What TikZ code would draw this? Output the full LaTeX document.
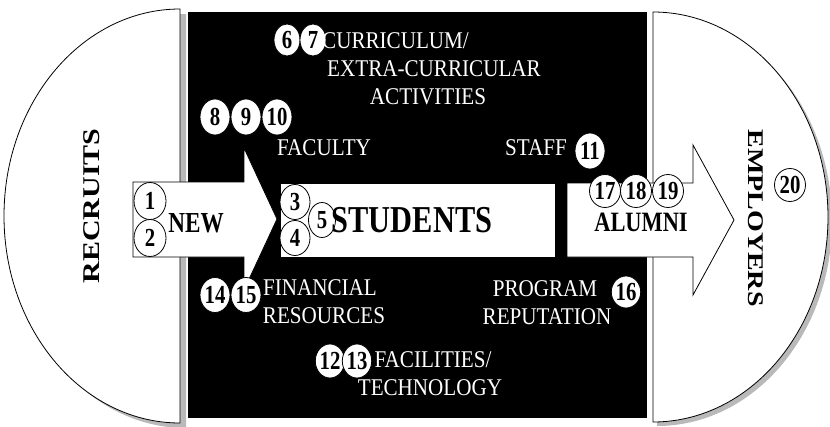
\documentclass[tikz,border=0pt]{standalone}
\usepackage{fontspec}
\setmainfont{Liberation Serif}
\usepackage{graphicx}
\usetikzlibrary{shapes.geometric}
\newcommand\sqz[1]{\scalebox{0.8}[1]{#1}}
\begin{document}
\begin{tikzpicture}[x=1pt,y=-1pt,
  numc/.style={ellipse, draw=black, line width=0.8pt, fill=white, inner sep=0pt,
    minimum width=30pt, minimum height=35pt, font=\bfseries\fontsize{26}{26}\selectfont},
  btxt/.style={font=\bfseries\fontsize{#1}{#1}\selectfont, text=black, xscale=0.8, inner sep=0pt},
  wtxt/.style={font=\fontsize{24}{24}\selectfont, text=white, xscale=0.88, inner sep=0pt},
  shapeline/.style={draw=black, line width=0.8pt, fill=white},
  shadowfill/.style={fill=gray!55}
]
\useasboundingbox (0,0) rectangle (830,426);
% shadows
\fill[shadowfill] (186,14) arc[start angle=270, end angle=90, x radius=176, y radius=207] -- cycle;
\fill[shadowfill] (657,16) arc[start angle=-90, end angle=90, x radius=175, y radius=205] -- cycle;
% half ellipses
\path[shapeline] (180,9) arc[start angle=270, end angle=90, x radius=176, y radius=207] -- cycle;
\path[shapeline] (653,12) arc[start angle=-90, end angle=90, x radius=175, y radius=205] -- cycle;
% black panel
\fill[black] (188,12) rectangle (647,418);
% arrows and box
\path[shapeline] (133,182) -- (244,182) -- (244,148) -- (277,219) -- (244,290) -- (244,257) -- (133,257) -- cycle;
\path[shapeline] (280,183) rectangle (555,257);
\path[shapeline] (567,183) -- (693,183) -- (693,145) -- (734,220) -- (693,295) -- (693,257) -- (567,257) -- cycle;
% numbered circles
\node[numc, minimum width=32pt, minimum height=37pt] (c1) at (150,201) {\sqz{1}};
\node[numc, minimum width=32pt, minimum height=37pt] (c2) at (150,238) {\sqz{2}};
\node[numc] (c3) at (295,202) {\sqz{3}};
\node[numc] (c4) at (295,238) {\sqz{4}};
\node[numc, minimum width=27pt] (c5) at (322,220) {\sqz{5}};
\node[numc, minimum width=26pt, minimum height=32pt] (c6) at (287,40) {\sqz{6}};
\node[numc, minimum width=26pt, minimum height=32pt] (c7) at (313,40) {\sqz{7}};
\node[numc, minimum height=36pt] (c8) at (215,117) {\sqz{8}};
\node[numc, minimum height=36pt] (c9) at (246,117) {\sqz{9}};
\node[numc, minimum height=36pt] (c10) at (277,117) {\sqz{10}};
\node[numc, minimum height=36pt] (c11) at (590,151) {\sqz{11}};
\node[numc, minimum width=27pt, minimum height=34pt] (c12) at (330,361) {\sqz{12}};
\node[numc, minimum width=27pt, minimum height=34pt] (c13) at (357,361) {\sqz{13}};
\node[numc] (c14) at (215,295) {\sqz{14}};
\node[numc] (c15) at (246,295) {\sqz{15}};
\node[numc, minimum width=27pt, minimum height=32pt] (c16) at (626,292) {\sqz{16}};
\node[numc, minimum width=31pt, minimum height=33pt] (c17) at (605,191) {\sqz{17}};
\node[numc, minimum width=31pt, minimum height=33pt] (c18) at (636,191) {\sqz{18}};
\node[numc, minimum width=31pt, minimum height=33pt] (c19) at (668,191) {\sqz{19}};
\node[numc, minimum width=31pt, minimum height=33pt] (c20) at (790,185) {\sqz{20}};
% black labels
\node[btxt=30, rotate=90] (recruits) at (92,206) {RECRUITS};
\node[btxt=28, rotate=-90] (employers) at (756,218) {EMPLOYERS};
\node[btxt=29] (new) at (196,223) {NEW};
\node[btxt=38] (students) at (412,220) {STUDENTS};
\node[btxt=28] (alumni) at (641,222) {ALUMNI};
% white labels
\node[wtxt, anchor=west] (curr) at (322,41) {CURRICULUM/};
\node[wtxt] (extra) at (434,69) {EXTRA-CURRICULAR};
\node[wtxt] (activ) at (428,97) {ACTIVITIES};
\node[wtxt] (faculty) at (324,148) {FACULTY};
\node[wtxt] (staff) at (536,148) {STAFF};
\node[wtxt] (financial) at (320,288) {FINANCIAL};
\node[wtxt] (resources) at (324,316) {RESOURCES};
\node[wtxt] (program) at (545,289) {PROGRAM};
\node[wtxt] (reputation) at (547,317) {REPUTATION};
\node[wtxt] (facilities) at (433,360) {FACILITIES/};
\node[wtxt] (technology) at (430,388) {TECHNOLOGY};
\end{tikzpicture}
\end{document}
